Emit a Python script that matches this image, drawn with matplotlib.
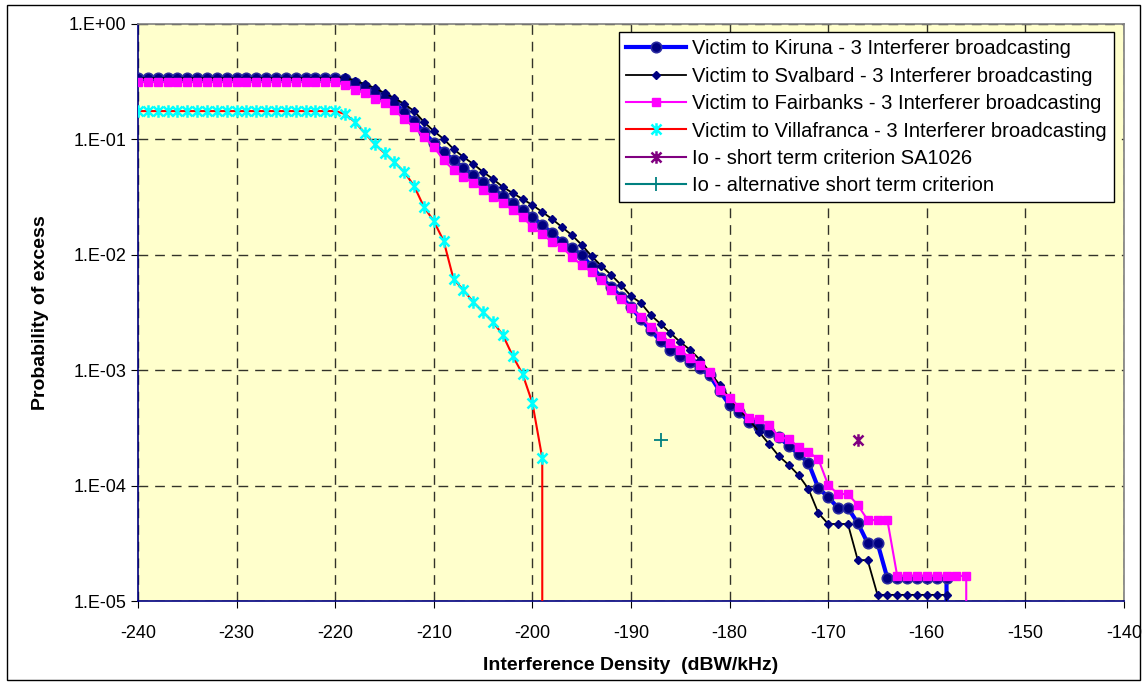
# Probability of excess vs interference density
import numpy as np
from matplotlib import pyplot as plt
from matplotlib.path import Path
from matplotlib.patches import Rectangle

# Data
plateau = 21  # -240 .. -220 dBW/kHz

x_kiruna = list(range(-240, -156))
p_kiruna = [0.340] * plateau + [
    0.334, 0.308, 0.284, 0.257, 0.233, 0.207, 0.173, 0.144, 0.116, 0.0930,
    0.0777, 0.0663, 0.0565, 0.0491, 0.0427, 0.0372, 0.0323, 0.0281, 0.0244, 0.0213,
    0.0181, 0.0154, 0.0129, 0.0114, 0.00996, 0.00799, 0.00629, 0.00526, 0.00431, 0.00353,
    0.00278, 0.00223, 0.00179, 0.00150, 0.00133, 0.00118, 0.00104, 0.000900, 0.000660, 0.000499,
    0.000434, 0.000356, 0.000322, 0.000291, 0.000264, 0.000220, 0.000188, 0.000157, 9.53e-5, 7.96e-5,
    6.39e-5, 6.39e-5, 4.74e-5, 3.18e-5, 3.18e-5,
    1.58e-5, 1.58e-5, 1.58e-5, 1.58e-5, 1.58e-5, 1.58e-5, 1.58e-5, 0]

x_svalbard = list(range(-240, -156))
p_svalbard = [0.340] * plateau + [
    0.347, 0.321, 0.302, 0.279, 0.252, 0.228, 0.203, 0.176, 0.1415, 0.118,
    0.1008, 0.0825, 0.0704, 0.0612, 0.0522, 0.0454, 0.0387, 0.0343, 0.0304, 0.0270,
    0.0235, 0.0204, 0.0174, 0.0148, 0.0122, 0.00976, 0.00799, 0.00668, 0.00547, 0.00439,
    0.00382, 0.00301, 0.00252, 0.00210, 0.00175, 0.00150, 0.00123, 0.000964, 0.000744, 0.000574,
    0.000452, 0.000370, 0.000291, 0.000229, 0.000180, 0.000151, 0.000123, 9.34e-5, 5.79e-5, 4.65e-5,
    4.65e-5, 4.65e-5, 2.26e-5, 2.26e-5,
    1.13e-5, 1.13e-5, 1.13e-5, 1.13e-5, 1.13e-5, 1.13e-5, 1.13e-5, 1.13e-5, 0]

x_fairbanks = list(range(-240, -154))
p_fairbanks = [0.314] * plateau + [
    0.296, 0.268, 0.252, 0.224, 0.207, 0.180, 0.150, 0.128, 0.1049, 0.0859,
    0.0663, 0.0543, 0.0472, 0.0419, 0.0364, 0.0317, 0.0281, 0.0244, 0.0213, 0.0174,
    0.0151, 0.0129, 0.0117, 0.00957, 0.00816, 0.00709, 0.00605, 0.00495, 0.00414, 0.00346,
    0.00289, 0.00237, 0.00198, 0.00172, 0.00150, 0.00127, 0.00111, 0.000964, 0.000673, 0.000574,
    0.000480, 0.000385, 0.000377, 0.000335, 0.000264, 0.000253, 0.000216, 0.000195, 0.000170, 0.000101,
    8.45e-5, 8.45e-5, 6.79e-5, 5.03e-5, 5.03e-5, 5.03e-5,
    1.65e-5, 1.65e-5, 1.65e-5, 1.65e-5, 1.65e-5, 1.65e-5, 1.65e-5, 1.65e-5, 0]

x_villa = list(range(-240, -197))
p_villa = [0.176] * plateau + [
    0.166, 0.1416, 0.1136, 0.0912, 0.0762, 0.0637, 0.0522, 0.0395, 0.0260, 0.0196,
    0.0132, 0.00617, 0.00496, 0.00390, 0.00319, 0.00262, 0.00202, 0.00133, 0.000927, 0.000520,
    0.000173, 0]

io_sa1026 = ([-167], [2.5e-4])
io_alt = ([-187], [2.5e-4])

labels = ['Victim to Kiruna - 3 Interferer broadcasting',
          'Victim to Svalbard - 3 Interferer broadcasting',
          'Victim to Fairbanks - 3 Interferer broadcasting',
          'Victim to Villafranca - 3 Interferer broadcasting',
          'Io - short term criterion SA1026',
          'Io - alternative short term criterion']

ytick_labels = ['1.E-05', '1.E-04', '1.E-03', '1.E-02', '1.E-01', '1.E+00']

plt.rcParams['font.family'] = ['Liberation Sans', 'DejaVu Sans']
plt.rcParams['axes.unicode_minus'] = False

# Excel style star: an X with a vertical bar
star = Path([(-1, -1), (1, 1), (-1, 1), (1, -1), (0, -1.25), (0, 1.25)],
            [Path.MOVETO, Path.LINETO] * 3)

W, H = 1146, 685
fig = plt.figure(figsize=(W / 100, H / 100), dpi=100)
ax = fig.add_axes([138 / W, 1 - 601 / H, (1124 - 138) / W, (601 - 24) / H])
ax.set_facecolor('#FFFFCC')
ax.set_yscale('log', nonpositive='clip')

ax.plot(x_kiruna, p_kiruna, color='#0000FF', lw=3, marker='o', ms=7.5,
        mfc='#000080', mec='#2A2AA0', mew=1.2, label=labels[0], zorder=3)
ax.plot(x_svalbard, p_svalbard, color='black', lw=1.3, marker='D', ms=4.5,
        mfc='#000080', mec='#000080', label=labels[1], zorder=4)
ax.plot(x_fairbanks, p_fairbanks, color='#FF00FF', lw=1.5, marker='s', ms=5.5,
        mfc='#FF00FF', mec='#FF00FF', label=labels[2], zorder=5)
ax.plot(x_villa, p_villa, color='#FF0000', lw=1.5, marker=star, ms=9,
        mfc='none', mec='#00FFFF', mew=1.8, label=labels[3], zorder=6)
ax.plot(*io_sa1026, color='#800080', lw=1.5, marker=star, ms=9,
        mfc='none', mec='#800080', mew=1.8, label=labels[4], zorder=6)
ax.plot(*io_alt, color='#008080', lw=1.5, marker='+', ms=10,
        mec='#008080', mew=1.3, label=labels[5], zorder=6)

# Axes
ax.set_xlim(-240, -140)
ax.set_ylim(1e-5, 1)
ax.set_xticks(np.arange(-240, -139, 10))
ax.set_yticks([1e-5, 1e-4, 1e-3, 1e-2, 1e-1, 1])
ax.set_yticklabels(ytick_labels)
ax.minorticks_off()
ax.tick_params(labelsize=13, length=5, direction='out', color='black')
ax.tick_params(axis='x', pad=12)
ax.grid(True, color='black', linestyle=(0, (7, 5)), lw=1, alpha=0.8)
ax.set_axisbelow(True)
for s in ax.spines.values():
    s.set_color('#000080')
    s.set_linewidth(1.2)
ax.spines['top'].set_color('#808080')
ax.spines['right'].set_color('#808080')

ax.set_xlabel('Interference Density  (dBW/kHz)', fontsize=14, fontweight='bold', labelpad=11)
ax.set_ylabel('Probability of excess', fontsize=14, fontweight='bold', labelpad=14)

leg = ax.legend(loc='upper right', bbox_to_anchor=(0.99, 0.986), fontsize=14.5,
                frameon=True, fancybox=False, edgecolor='black', framealpha=1,
                handlelength=3.0, labelspacing=0.42, borderpad=0.35, handletextpad=0.3,
                borderaxespad=0)
leg.get_frame().set_linewidth(1)

# Outer chart border
fig.patches.append(Rectangle((7 / W, 1 - 680 / H), (1140 - 7) / W, (680 - 5) / H,
                             transform=fig.transFigure, fill=False,
                             edgecolor='black', lw=1))

plt.savefig('out.png', dpi=100)
